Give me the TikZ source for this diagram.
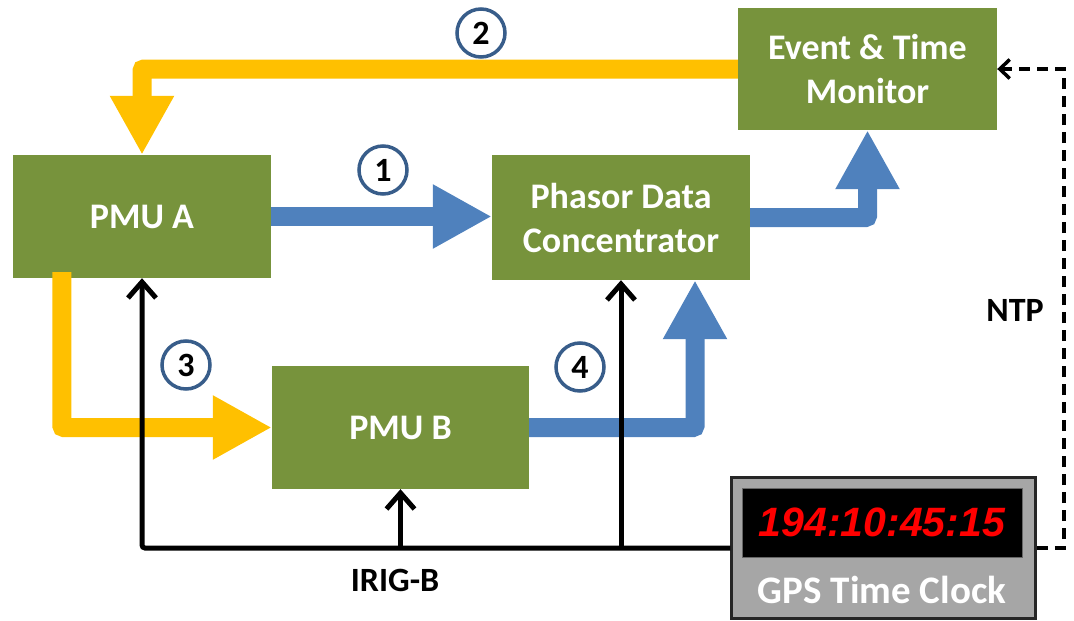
\documentclass[tikz,border=0pt]{standalone}
\usepackage{fontspec}
\setmainfont{Carlito}
\newfontfamily\clockfont{Liberation Sans}
\usetikzlibrary{arrows.meta,calc}
\definecolor{boxgreen}{HTML}{77933C}
\definecolor{flowyellow}{HTML}{FFC000}
\definecolor{flowblue}{HTML}{4F81BD}
\definecolor{ringblue}{HTML}{385D8A}
\definecolor{clockgray}{HTML}{A6A6A6}
\definecolor{digitred}{HTML}{FF0000}
\tikzset{
  unitbox/.style={fill=boxgreen, text=white, align=center, inner sep=0pt,
    font=\fontsize{36}{44}\selectfont\bfseries},
  blockarrow/.style={line width=19pt, rounded corners=2pt,
    -{Triangle[width=60pt,length=59pt]}},
  yellowflow/.style={blockarrow, draw=flowyellow},
  blueflow/.style={blockarrow, draw=flowblue},
  syncline/.style={line width=5pt, draw=black, rounded corners=3pt},
  synctip/.style={-{Straight Barb[length=16pt,width=28pt,line width=5pt]}},
  ntpline/.style={line width=3.5pt, draw=black, dash pattern=on 11pt off 7pt,
    -{Straight Barb[length=10pt,width=19pt,line width=3.5pt]}},
  stepmark/.style={circle, draw=ringblue, line width=3.5pt, fill=white,
    minimum size=48pt, inner sep=0pt,
    font=\fontsize{34}{38}\selectfont\bfseries},
  plainlabel/.style={font=\fontsize{34}{40}\selectfont\bfseries, inner sep=0pt}
}
\begin{document}
\begin{tikzpicture}[x=1pt, y=-1pt]
\useasboundingbox (0,0) rectangle (1074,621);

% measurement units and concentrator
\node[unitbox, minimum width=258pt, minimum height=123pt] (pmuA) at (142,216.5) {PMU A};
\node[unitbox, minimum width=258pt, minimum height=125pt] (pdc) at (621,217.5) {Phasor Data\\Concentrator};
\node[unitbox, minimum width=259pt, minimum height=122pt] (monitor) at (867.5,69) {Event \& Time\\Monitor};
\node[unitbox, minimum width=257pt, minimum height=123pt] (pmuB) at (400.5,427.5) {PMU B};

% GPS clock with its display
\node[draw=black!85, line width=3.5pt, fill=clockgray, minimum width=303pt,
      minimum height=140pt, inner sep=0pt] (gps) at (883.5,548) {};
\draw[black!35, line width=2pt] ($(gps.south west)+(3.5,-3.5)$) rectangle ($(gps.north east)+(-3.5,3.5)$);
\node[fill=black, draw=black!60, line width=1pt, minimum width=280pt,
      minimum height=69pt, inner sep=0pt, text=digitred,
      font=\clockfont\fontsize{41}{44}\selectfont\bfseries\itshape] (display) at (882,522.5) {194:10:45:15};
\node[text=white, inner sep=0pt, font=\fontsize{39}{44}\selectfont\bfseries] (gpslabel) at (882,590) {GPS Time Clock};

% data flows
\draw[blueflow] (pmuA.east) -- (pdc.west |- pmuA.east);
\draw[blueflow] (pdc.east) -| (monitor.south);
\coordinate (pdcin) at ($(pdc.south)+(74,0)$);
\draw[blueflow] (pmuB.east) -| (pdcin);
\draw[yellowflow] (monitor.west) -| (pmuA.north);
\coordinate (pmuAout) at ($(pmuA.south west)+(49,-6)$);
\draw[yellowflow] (pmuAout) |- (pmuB.west);

% IRIG-B time distribution
\draw[syncline, synctip] (gps.west) -| (pmuA.south);
\draw[syncline, synctip, rounded corners=0pt] (pmuB.south |- gps.west) -- (pmuB.south);
\draw[syncline, synctip, rounded corners=0pt] (pdc.south |- gps.west) -- (pdc.south);
\node[plainlabel] (irig) at (395,580) {IRIG-B};

% NTP time distribution
\coordinate (ntpbend) at ($(gps.east)+(27,0)$);
\draw[ntpline] (gps.east) -- (ntpbend) |- (monitor.east);
\node[plainlabel] (ntp) at (1015,310) {NTP};

% step numbers
\node[stepmark] (s1) at (383,170) {1};
\node[stepmark] (s2) at (481,33) {2};
\node[stepmark] (s3) at (186,365) {3};
\node[stepmark] (s4) at (580,367) {4};
\end{tikzpicture}
\end{document}
